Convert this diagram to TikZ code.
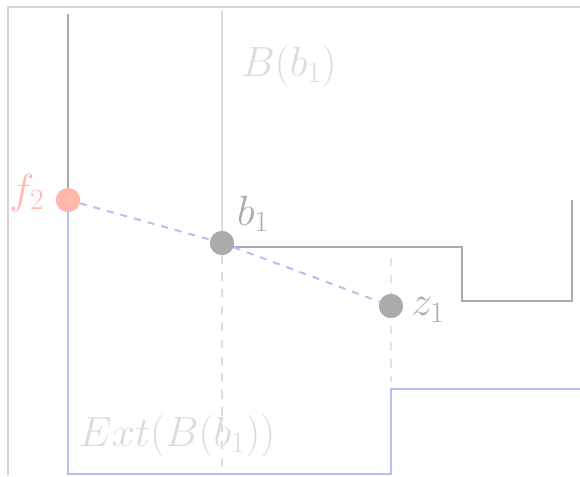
\RequirePackage{fix-cm}
\documentclass[tikz,border=0pt]{standalone}
\usepackage{tikz}
\usetikzlibrary{positioning}
\definecolor{ptgray}{HTML}{ABABAB}
\definecolor{ptlight}{HTML}{DCDCDC}
\definecolor{ptblue}{HTML}{B4BFF2}
\definecolor{ptsalmon}{HTML}{FFB8A9}
\definecolor{ptframe}{HTML}{D6D6D6}

\begin{document}
\begin{tikzpicture}[x=0.025cm,y=-0.025cm,
    dot/.style={circle,inner sep=0pt,minimum size=0.6cm},
    lbl/.style={font=\fontsize{30}{36}\selectfont},
    boundary/.style={line width=1.4pt}]
  \useasboundingbox (0,0) rectangle (580,476);
  % frame
  \draw[ptframe,line width=1pt] (8,476) -- (8,7) -- (580,7);
  % the points
  \node[dot,fill=ptsalmon] (f2) at (68,200) {};
  \node[dot,fill=ptgray] (b1) at (222,243) {};
  \node[dot,fill=ptgray] (z1) at (391,306) {};
  \coordinate (topf) at (68,14);
  \coordinate (topb) at (222,10);
  \coordinate (footb) at (222,472);
  \coordinate (topz) at (391,258);
  \coordinate (footz) at (391,382);
  % boundaries
  \draw[ptgray,boundary] (topf) -- (f2.center);
  \draw[ptlight,boundary] (topb) -- (b1.center);
  \draw[ptgray,boundary] (b1.center) ++(0,4) -- (462,247) -- (462,301) -- (572,301) -- (572,200);
  \draw[ptblue,boundary] (f2.center) -- (68,474) -- (391,474) -- (391,389) -- (580,389);
  % vertical guides
  \draw[ptlight,boundary,dash pattern=on 6pt off 6pt] (b1) -- (footb);
  \draw[ptlight!80!white,boundary,dash pattern=on 6pt off 6pt] (topz) -- (footz);
  % segment
  \draw[ptblue,boundary,dash pattern=on 5pt off 5pt] (f2) -- (b1) -- (z1);
  \node[dot,fill=ptsalmon] at (f2) {};
  \node[dot,fill=ptgray] at (b1) {};
  \node[dot,fill=ptgray] at (z1) {};
  % labels
  \node[lbl,ptsalmon] (f2lbl) at (27,193) {$f_2$};
  \node[lbl,ptgray] (b1lbl) at (253,214) {$b_1$};
  \node[lbl,ptgray] (z1lbl) at (428,310) {$z_1$};
  \node[lbl,ptlight] (ballname) at (289,66) {$B(b_1)$};
  \node[lbl,ptlight] (extname) at (177,436) {$Ext(B(b_1))$};
\end{tikzpicture}
\end{document}
